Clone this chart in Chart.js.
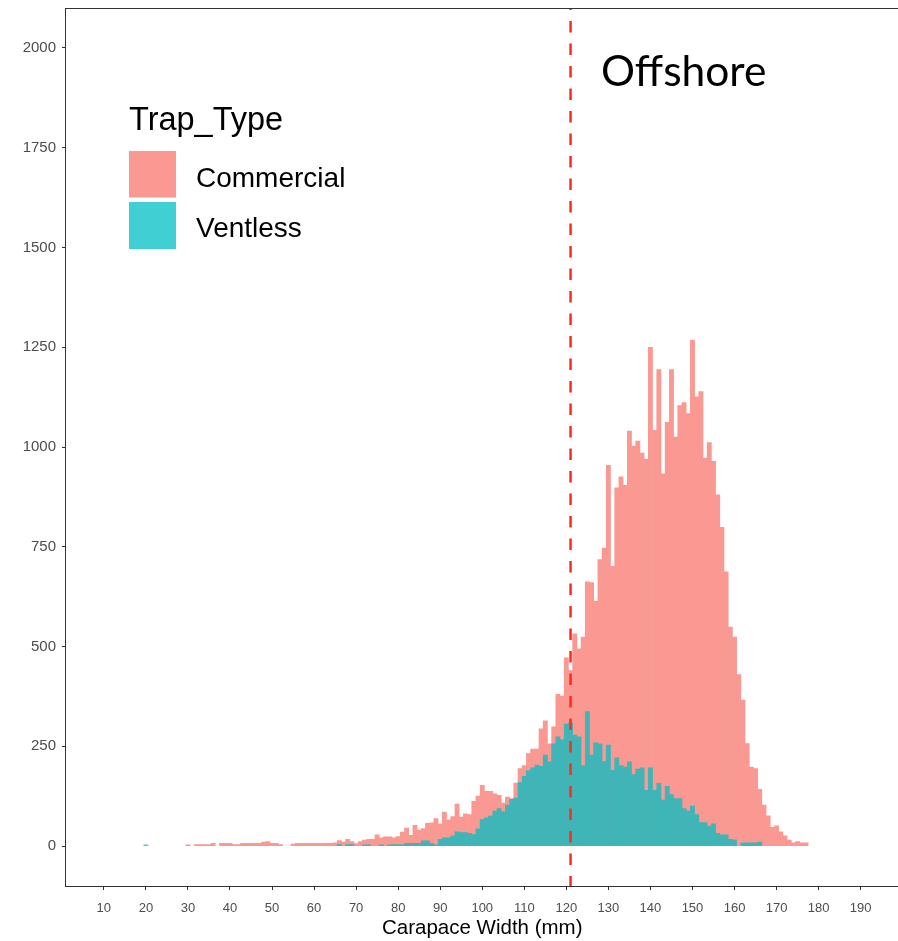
<!DOCTYPE html>
<html>
<head>
<meta charset="utf-8">
<script src="https://cdn.jsdelivr.net/npm/chart.js@4.4.1/dist/chart.umd.min.js"></script>
<style>
  html, body { margin: 0; padding: 0; background: #ffffff; overflow: hidden; }
  #wrap { position: relative; width: 898px; height: 941px; overflow: hidden; background: #ffffff; }
  #chart { position: absolute; left: 0; top: 0; }
  #overlay { position: absolute; left: 0; top: 0; pointer-events: none; }
</style>
</head>
<body>
<div id="wrap">
  <canvas id="chart" width="900" height="941"></canvas>
  <svg id="overlay" width="898" height="941" xmlns="http://www.w3.org/2000/svg"></svg>
</div>
<script>
// Histogram bins: carapace width in mm (1 mm bins, centred on whole numbers)
const binCentres = [
  20, 21, 22, 23, 24, 25, 26, 27, 28, 29,
  30, 31, 32, 33, 34, 35, 36, 37, 38, 39,
  40, 41, 42, 43, 44, 45, 46, 47, 48, 49,
  50, 51, 52, 53, 54, 55, 56, 57, 58, 59,
  60, 61, 62, 63, 64, 65, 66, 67, 68, 69,
  70, 71, 72, 73, 74, 75, 76, 77, 78, 79,
  80, 81, 82, 83, 84, 85, 86, 87, 88, 89,
  90, 91, 92, 93, 94, 95, 96, 97, 98, 99,
  100, 101, 102, 103, 104, 105, 106, 107, 108, 109,
  110, 111, 112, 113, 114, 115, 116, 117, 118, 119,
  120, 121, 122, 123, 124, 125, 126, 127, 128, 129,
  130, 131, 132, 133, 134, 135, 136, 137, 138, 139,
  140, 141, 142, 143, 144, 145, 146, 147, 148, 149,
  150, 151, 152, 153, 154, 155, 156, 157, 158, 159,
  160, 161, 162, 163, 164, 165, 166, 167, 168, 169,
  170, 171, 172, 173, 174, 175, 176, 177
];

// Lobster counts per bin, commercial traps
const commercial = [
  0, 0, 0, 0, 0, 0, 0, 0, 0, 0,
  3, 0, 4, 4, 4, 4, 7, 0, 7, 7,
  7, 4, 4, 7, 7, 7, 7, 7, 10, 11,
  7, 7, 4, 0, 0, 5, 7, 7, 7, 7,
  7, 7, 7, 7, 7, 8, 14, 10, 17, 11,
  6, 11, 15, 17, 17, 28, 21, 23, 23, 21,
  24, 35, 45, 27, 52, 40, 44, 57, 58, 69,
  55, 85, 66, 74, 105, 73, 81, 79, 112, 125,
  152, 137, 137, 131, 127, 108, 123, 119, 158, 194,
  202, 232, 243, 243, 294, 314, 256, 299, 380, 376,
  472, 440, 532, 494, 524, 662, 660, 614, 718, 747,
  954, 701, 898, 925, 904, 1040, 1002, 1015, 985, 969,
  1250, 1042, 1194, 933, 1062, 1194, 1025, 1104, 1111, 1084,
  1267, 1126, 1139, 972, 1011, 964, 880, 799, 687, 549,
  524, 430, 366, 257, 198, 194, 142, 103, 76, 47,
  51, 36, 26, 15, 8, 11, 8, 8
];

// Lobster counts per bin, ventless traps
const ventless = [
  3, 0, 0, 0, 0, 0, 0, 0, 0, 0,
  0, 0, 0, 0, 0, 0, 0, 0, 0, 0,
  0, 0, 0, 0, 0, 0, 0, 0, 0, 0,
  0, 0, 0, 0, 0, 0, 0, 0, 0, 0,
  0, 0, 0, 0, 0, 0, 4, 0, 4, 4,
  0, 0, 3, 3, 0, 0, 3, 0, 3, 4,
  4, 3, 7, 7, 7, 7, 13, 13, 7, 3,
  17, 21, 21, 25, 36, 34, 34, 32, 29, 43,
  67, 71, 75, 88, 94, 86, 103, 117, 120, 159,
  175, 189, 196, 203, 200, 228, 211, 256, 274, 266,
  306, 309, 278, 274, 201, 337, 228, 259, 256, 212,
  253, 190, 221, 202, 198, 211, 179, 193, 196, 140,
  196, 140, 157, 115, 150, 129, 119, 119, 94, 88,
  100, 79, 59, 59, 50, 56, 32, 28, 28, 17,
  16, 0, 8, 8, 8, 8, 10, 0, 0, 0,
  0, 0, 0, 0, 0, 0, 0, 0
];

const trapTypes = ['Commercial', 'Ventless'];
const xTicks = [10, 20, 30, 40, 50, 60, 70, 80, 90, 100, 110, 120, 130, 140, 150, 160, 170, 180, 190];
const yTicks = [0, 250, 500, 750, 1000, 1250, 1500, 1750, 2000];
const offshoreCutoff = 121;   // mm, dashed reference line
const regionLabel = 'Offshore';

// Fill colours (ggplot hues at 0.75 alpha, pre-blended)
const pinkOnWhite = '#fa9892';
const tealOnWhite = '#40cfd3';
const tealOnPink = '#3fb5b7';

const FONT = '"Liberation Sans", Arial, Helvetica, sans-serif';

// Panel frame and the dashed cutoff line
const framePlugin = {
  id: 'frame',
  afterDatasetsDraw(chart) {
    const { ctx, chartArea: a, scales: { x } } = chart;
    const px = x.getPixelForValue(offshoreCutoff);
    ctx.save();
    ctx.beginPath();
    ctx.rect(a.left, a.top, a.right - a.left, a.bottom - a.top);
    ctx.clip();
    ctx.strokeStyle = '#ff2a1a';
    ctx.lineWidth = 2.5;
    ctx.setLineDash([11.5, 11]);
    ctx.lineDashOffset = 9.5;
    ctx.beginPath();
    ctx.moveTo(px, a.top);
    ctx.lineTo(px, a.bottom);
    ctx.stroke();
    ctx.restore();
  },
  afterDraw(chart) {
    const { ctx, chartArea: a } = chart;
    ctx.save();
    ctx.strokeStyle = '#333333';
    ctx.lineWidth = 1;
    const l = Math.round(a.left) - 0.5, t = Math.round(a.top) + 0.5;
    const r = Math.round(a.right) - 0.5, b = Math.round(a.bottom) + 0.5;
    ctx.strokeRect(l, t, r - l, b - t);
    ctx.restore();
  }
};

// Empty bins are left out so no sliver is drawn for them
const points = (vals) => binCentres
  .map((x, i) => ({ x, y: vals[i] }))
  .filter((p) => p.y > 0);

new Chart(document.getElementById('chart'), {
  type: 'bar',
  data: {
    datasets: [
      {
        label: trapTypes[0],
        data: points(commercial),
        backgroundColor: pinkOnWhite,
        order: 2
      },
      {
        label: trapTypes[1],
        data: points(ventless),
        backgroundColor: (c) => (commercial[binCentres.indexOf(c.raw.x)] > 0 ? tealOnPink : tealOnWhite),
        order: 1
      }
    ]
  },
  options: {
    responsive: false,
    animation: false,
    events: [],
    layout: { padding: { left: 0, right: 1.5, top: 8, bottom: 0 } },
    datasets: {
      bar: { grouped: false, barPercentage: 1, categoryPercentage: 1, borderWidth: 0 }
    },
    plugins: { legend: { display: false }, tooltip: { enabled: false } },
    scales: {
      x: {
        type: 'linear',
        min: 1,
        max: 199,
        offset: false,
        afterBuildTicks: (s) => { s.ticks = xTicks.map((v) => ({ value: v })); },
        afterFit: (s) => { s.height = 55; s.paddingLeft = 0; s.paddingRight = 0; },
        grid: { display: true, offset: false, drawOnChartArea: false, drawTicks: true, tickLength: 4, color: '#333333', lineWidth: 1 },
        border: { display: false },
        ticks: {
          autoSkip: false, maxRotation: 0, padding: 11, color: '#4d4d4d',
          font: { family: FONT, size: 13 },
          callback: (v) => String(v)
        },
        title: {
          display: true, text: 'Carapace Width (mm)', color: '#000000',
          font: { family: FONT, size: 20.5 }, padding: { top: 0, bottom: 0 }
        }
      },
      y: {
        type: 'linear',
        min: -100,
        max: 2100,
        afterBuildTicks: (s) => { s.ticks = yTicks.map((v) => ({ value: v })); },
        afterFit: (s) => { s.width = 66; s.paddingTop = 0; s.paddingBottom = 0; },
        grid: { display: true, drawOnChartArea: false, drawTicks: true, tickLength: 4, color: '#333333', lineWidth: 1 },
        border: { display: false },
        ticks: {
          padding: 6, color: '#4d4d4d',
          font: { family: FONT, size: 15 },
          callback: (v) => String(v)
        }
      }
    }
  },
  plugins: [framePlugin]
});

// Legend and region annotation as SVG text over the canvas
const svg = document.getElementById('overlay');
const NS = 'http://www.w3.org/2000/svg';
function addText(txt, x, y, size, family, fill) {
  const t = document.createElementNS(NS, 'text');
  t.setAttribute('x', x);
  t.setAttribute('y', y);
  t.setAttribute('font-size', size);
  t.setAttribute('font-family', family);
  t.setAttribute('fill', fill);
  t.textContent = txt;
  svg.appendChild(t);
}
function addRect(x, y, w, h, fill) {
  const r = document.createElementNS(NS, 'rect');
  r.setAttribute('x', x);
  r.setAttribute('y', y);
  r.setAttribute('width', w);
  r.setAttribute('height', h);
  r.setAttribute('fill', fill);
  svg.appendChild(r);
}
addText('Trap_Type', 129, 130, 32.5, FONT, '#000000');
addRect(129, 151, 47, 46.5, pinkOnWhite);
addRect(129, 202, 47, 47, tealOnWhite);
addText(trapTypes[0], 196, 187, 28, FONT, '#000000');
addText(trapTypes[1], 196, 237, 28, FONT, '#000000');
addText(regionLabel, 601, 86, 42.5, 'Lato, "Open Sans", sans-serif', '#000000');
</script>
</body>
</html>
